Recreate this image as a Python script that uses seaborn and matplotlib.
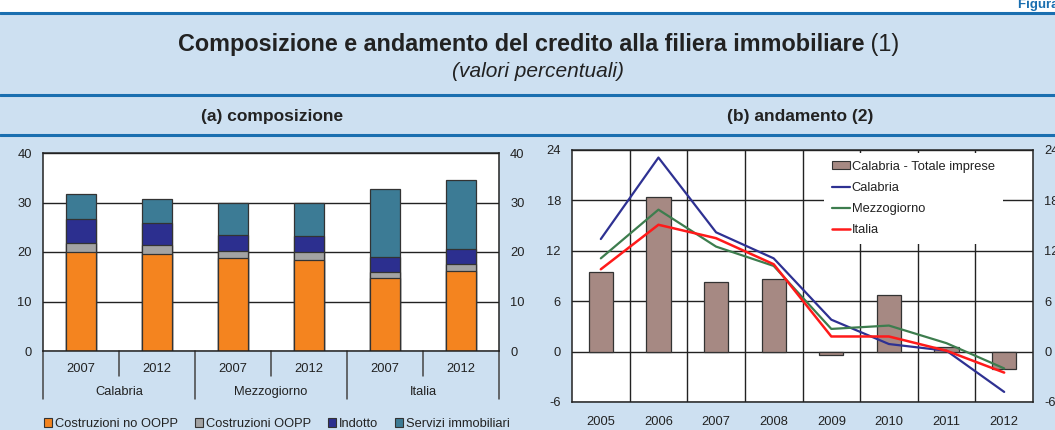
import numpy as np
import matplotlib
matplotlib.use("Agg")
import matplotlib.pyplot as plt
import seaborn as sns
from matplotlib.patches import Patch, Rectangle
from matplotlib.lines import Line2D

# (a) composizione
gruppi = ["Calabria", "Mezzogiorno", "Italia"]
anni_a = ["2007", "2012"]
costruzioni_no_oopp = [20.1, 19.6, 18.8, 18.3, 14.7, 16.1]
costruzioni_oopp = [1.8, 1.9, 1.4, 1.8, 1.3, 1.4]
indotto = [4.8, 4.3, 3.3, 3.1, 2.9, 3.1]
servizi_immobiliari = [5.0, 5.0, 6.5, 6.6, 13.9, 13.9]

# (b) andamento
anni_b = ["2005", "2006", "2007", "2008", "2009", "2010", "2011", "2012"]
calabria_totale_imprese = [9.5, 18.4, 8.3, 8.7, -0.4, 6.7, 0.6, -2.1]
calabria = [13.4, 23.1, 14.2, 11.1, 3.8, 0.9, 0.1, -4.8]
mezzogiorno = [11.1, 16.9, 12.5, 10.2, 2.7, 3.1, 1.0, -2.0]
italia = [9.8, 15.1, 13.5, 10.4, 1.8, 1.8, 0.1, -2.5]

sns.set_theme(style="white")
plt.rcParams["font.family"] = ["Liberation Sans", "DejaVu Sans"]
plt.rcParams["axes.unicode_minus"] = False

W, H = 1055, 430
BG = "#cde0f1"
BLUE = "#1a6fb0"
TXT = "#222222"
FS = 9.3

fig = plt.figure(figsize=(W / 100, H / 100), dpi=100, facecolor=BG)

# intestazione
fig.patches.append(Rectangle((0, 1 - 12 / H), 1, 12 / H, transform=fig.transFigure,
                             facecolor="white", edgecolor="none", zorder=0))
for yp in [12.5, 95, 135]:
    fig.add_artist(Line2D([0, 1], [1 - yp / H] * 2, transform=fig.transFigure,
                          color=BLUE, lw=2.2))
fig.text(1018 / W, 1 - 8 / H, "Figura 6.3", color=BLUE, fontsize=9.5,
         fontweight="bold", va="baseline", ha="left")
t1 = fig.text(521 / W, 1 - 51 / H, "Composizione e andamento del credito alla filiera immobiliare",
              fontsize=16.8, fontweight="bold", ha="center", va="baseline", color=TXT)
fig.text(538 / W, 1 - 77 / H, "(valori percentuali)", fontsize=15, style="italic",
         ha="center", va="baseline", color=TXT)
fig.text(272 / W, 1 - 121 / H, "(a) composizione", fontsize=12.5, fontweight="bold",
         ha="center", va="baseline", color=TXT)
fig.text(800 / W, 1 - 121 / H, "(b) andamento (2)", fontsize=12.5, fontweight="bold",
         ha="center", va="baseline", color=TXT)

# ---------- (a) composizione ----------
ax1 = fig.add_axes([43 / W, (H - 351) / H, (499 - 43) / W, (351 - 153) / H])
etichette = [f"{g} {a}" for g in gruppi for a in anni_a]
strati = [costruzioni_no_oopp, costruzioni_oopp, indotto, servizi_immobiliari]
colori_a = ["#f4841f", "#a3a3a3", "#2c2f8f", "#3c7b95"]
nomi_a = ["Costruzioni no OOPP", "Costruzioni OOPP", "Indotto", "Servizi immobiliari"]
cumulati = np.cumsum(np.array(strati), axis=0)
for livello in range(len(strati) - 1, -1, -1):
    sns.barplot(x=etichette, y=cumulati[livello], color=colori_a[livello], width=0.4,
                edgecolor="#333333", linewidth=0.9, saturation=1, ax=ax1)
ax1.set_ylim(0, 40)
ax1.set_xlim(-0.5, 5.5)
ax1.set_yticks([0, 10, 20, 30, 40])
ax1.set_xticks([])
ax1.yaxis.grid(True, color="#222222", lw=1.0)
ax1.set_axisbelow(True)
ax1.tick_params(axis="y", length=0, labelsize=FS, labelcolor=TXT, pad=8,
                labelright=True)
for s in ax1.spines.values():
    s.set_color("#222222")
    s.set_linewidth(1.1)

tr = ax1.get_xaxis_transform()
for i, et in enumerate(etichette):
    ax1.text(i, -0.091, anni_a[i % 2], transform=tr, ha="center", va="center",
             fontsize=FS, color=TXT)
for j, g in enumerate(gruppi):
    ax1.text(2 * j + 0.5, -0.207, g, transform=tr, ha="center", va="center",
             fontsize=FS, color=TXT)
for xs in np.arange(-0.5, 6, 1):
    basso = -0.242 if (xs + 0.5) % 2 == 0 else -0.126
    ax1.plot([xs, xs], [0, basso], transform=tr, color="#444444", lw=1.1, clip_on=False)

fig.legend(handles=[Patch(facecolor=c, edgecolor="#333333", lw=0.8, label=n)
                    for c, n in zip(colori_a, nomi_a)],
           loc="center", bbox_to_anchor=(277 / W, 6 / H), ncol=4, frameon=False,
           fontsize=FS, handlelength=0.6, handleheight=0.6, handletextpad=0.27,
           columnspacing=1.3, labelcolor=TXT)

# ---------- (b) andamento ----------
ax2 = fig.add_axes([572 / W, (H - 402) / H, (1033 - 572) / W, (402 - 150) / H])
ax2.set_facecolor("white")
sns.barplot(x=anni_b, y=calabria_totale_imprese, color="#a68983", width=0.42,
            edgecolor="#333333", linewidth=0.9, saturation=1, ax=ax2)
pos = np.arange(len(anni_b))
sns.lineplot(x=pos, y=calabria, color="#2e3192", lw=1.6, ax=ax2)
sns.lineplot(x=pos, y=mezzogiorno, color="#3d7d4e", lw=1.6, ax=ax2)
sns.lineplot(x=pos, y=italia, color="#ff1a1a", lw=1.8, ax=ax2)
ax2.set_ylim(-6, 24)
ax2.set_xlim(-0.5, 7.5)
ax2.set_yticks(np.arange(-6, 25, 6))
ax2.set_xticks(pos)
ax2.set_xticklabels(anni_b)
ax2.set_xticks(np.arange(0.5, 7, 1), minor=True)
ax2.yaxis.grid(True, color="#222222", lw=1.0)
ax2.xaxis.grid(True, which="minor", color="#222222", lw=1.0)
ax2.set_axisbelow(True)
ax2.tick_params(axis="y", length=0, labelsize=FS, labelcolor=TXT, pad=8,
                labelright=True)
ax2.tick_params(axis="x", which="both", length=0, labelsize=FS, labelcolor=TXT, pad=10)
for s in ax2.spines.values():
    s.set_color("#222222")
    s.set_linewidth(1.1)

ax2.legend(handles=[Patch(facecolor="#a68983", edgecolor="#333333", lw=0.8,
                          label="Calabria - Totale imprese"),
                    Line2D([], [], color="#2e3192", lw=1.6, label="Calabria"),
                    Line2D([], [], color="#3d7d4e", lw=1.6, label="Mezzogiorno"),
                    Line2D([], [], color="#ff1a1a", lw=1.8, label="Italia")],
           loc="upper left", bbox_to_anchor=((824 - 572) / 461, (402 - 153) / 252),
           borderaxespad=0, frameon=True, facecolor="white", edgecolor="none",
           framealpha=1, fancybox=False, fontsize=FS, handlelength=1.4,
           handleheight=0.55, handletextpad=0.15, labelspacing=0.7, borderpad=0.6,
           labelcolor=TXT)

# "(1)" in tondo subito dopo il titolo in grassetto
fig.canvas.draw()
bb = t1.get_window_extent()
fig.text(bb.x1 / W, 1 - 51 / H, " (1)", fontsize=16.8, color=TXT, va="baseline", ha="left")

fig.savefig("out.png", dpi=100, facecolor=BG)
